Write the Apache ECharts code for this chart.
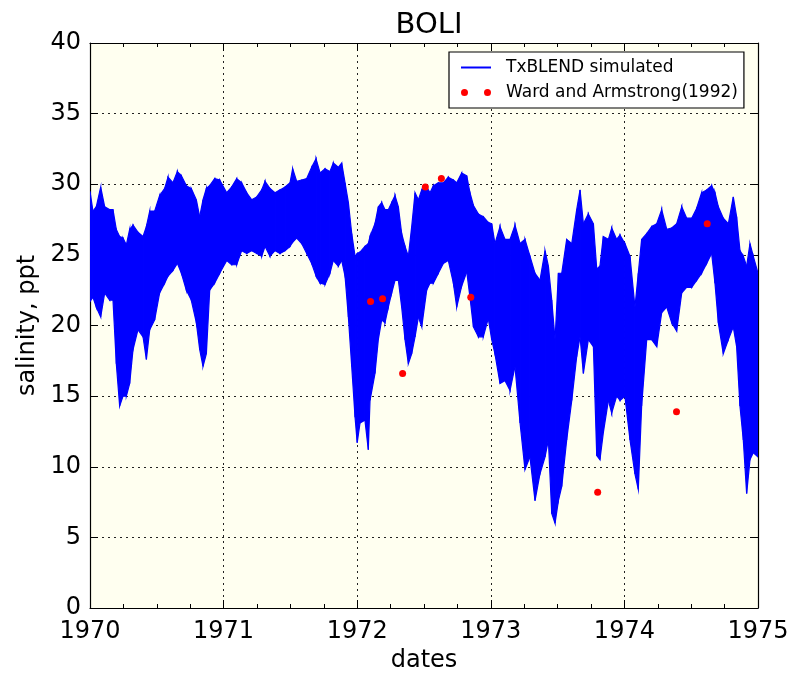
<!DOCTYPE html>
<html>
<head>
<meta charset="utf-8">
<script src="https://cdn.jsdelivr.net/npm/echarts@6/dist/echarts.min.js"></script>
<style>html,body{margin:0;padding:0;background:#fff}#c{width:795px;height:673px}</style>
</head>
<body>
<div id="c"></div>
<script>
// Simulated salinity envelope (decimal year, upper and lower extent of the tidal oscillation)
const simT = [1970.000,1970.022,1970.047,1970.080,1970.110,1970.147,1970.172,1970.197,1970.222,1970.247,1970.272,1970.297,1970.322,1970.359,1970.397,1970.422,1970.447,1970.484,1970.521,1970.559,1970.584,1970.621,1970.654,1970.684,1970.721,1970.758,1970.796,1970.821,1970.846,1970.871,1970.896,1970.933,1970.971,
1971.023,1971.060,1971.098,1971.135,1971.173,1971.210,1971.248,1971.285,1971.310,1971.347,1971.385,1971.422,1971.460,1971.497,1971.517,1971.547,1971.585,1971.622,1971.659,1971.692,1971.722,1971.759,1971.796,1971.821,1971.859,1971.884,1971.909,1971.934,1971.959,1971.984,
1972.000,1972.021,1972.058,1972.083,1972.096,1972.133,1972.158,1972.183,1972.208,1972.233,1972.258,1972.283,1972.308,1972.333,1972.358,1972.383,1972.408,1972.433,1972.458,1972.483,1972.520,1972.545,1972.570,1972.607,1972.645,1972.682,1972.720,1972.745,1972.782,1972.820,1972.844,1972.870,1972.907,1972.944,1972.981,
1973.007,1973.031,1973.069,1973.106,1973.144,1973.181,1973.219,1973.256,1973.293,1973.331,1973.368,1973.406,1973.431,1973.456,1973.481,1973.506,1973.531,1973.568,1973.606,1973.643,1973.668,1973.693,1973.730,1973.768,1973.793,1973.817,1973.842,1973.880,1973.905,1973.942,1973.967,
1974.004,1974.042,1974.079,1974.104,1974.129,1974.167,1974.204,1974.242,1974.279,1974.317,1974.354,1974.391,1974.429,1974.466,1974.504,1974.541,1974.578,1974.616,1974.653,1974.678,1974.703,1974.740,1974.778,1974.815,1974.840,1974.865,1974.890,1974.915,1974.940,1974.965,1975.000];
const simHi = [29.5,28.1,28.4,29.8,28.4,28.2,28.2,26.8,26.3,26.2,25.7,26.8,27.1,26.6,26.3,27.0,28.1,28.1,29.2,29.7,30.5,30.1,30.9,30.6,29.9,29.7,28.9,27.7,28.9,29.7,29.9,30.4,30.3,
29.4,29.8,30.4,30.1,29.4,28.9,29.1,29.6,30.2,29.7,29.4,29.6,29.8,30.1,31.1,30.2,30.3,30.4,31.2,31.8,30.8,31.1,30.9,31.5,31.2,31.5,30.1,28.7,26.5,24.9,
25.1,25.2,25.6,25.8,26.3,27.2,28.4,28.7,28.2,28.2,28.7,29.2,28.4,26.5,25.6,24.9,27.0,29.4,28.9,29.6,29.8,29.4,29.9,30.1,30.1,30.5,30.3,30.1,30.8,30.6,29.4,28.5,27.9,27.7,27.3,
27.2,25.8,27.0,26.1,26.1,27.1,25.8,26.1,24.9,23.7,23.2,25.3,24.2,21.8,19.0,23.7,23.7,26.1,25.8,28.2,29.6,27.2,27.9,27.2,24.0,24.2,26.3,26.1,26.9,26.1,26.4,
25.8,24.9,21.3,23.7,26.1,26.5,27.0,27.2,28.2,26.8,26.9,27.2,28.4,27.6,27.6,28.3,29.4,29.6,29.9,29.4,28.4,27.6,27.2,29.1,27.7,25.3,24.9,24.2,25.8,24.9,23.7];
const simLo = [21.7,22.0,21.3,20.6,22.3,21.8,21.8,17.3,14.3,15.0,15.0,15.9,18.3,19.7,19.2,17.6,19.7,20.4,22.3,23.0,23.5,23.9,24.4,23.7,22.5,21.8,20.2,18.3,17.1,18.0,22.5,23.0,23.7,
24.6,24.3,24.3,25.3,25.1,25.3,25.1,24.9,25.6,24.9,25.3,25.1,25.3,25.6,25.9,26.2,25.8,25.1,24.4,23.5,23.0,22.9,23.7,24.6,24.2,24.6,23.5,20.6,17.1,13.5,
11.7,13.1,13.3,11.2,14.7,16.6,19.0,20.4,20.2,21.3,22.3,23.2,23.2,21.3,19.0,17.3,18.0,19.2,20.6,19.9,22.5,23.0,23.0,23.7,24.4,24.6,23.0,21.3,22.8,23.8,22.0,19.9,19.2,19.2,20.5,
19.0,18.0,15.9,16.1,15.4,17.1,13.1,9.8,10.7,7.6,9.5,10.7,11.9,6.7,6.0,7.6,8.6,11.9,14.7,17.8,19.2,16.6,19.0,18.5,10.8,10.5,12.4,14.7,13.8,15.0,14.7,
15.0,11.9,9.5,8.4,14.3,19.0,19.0,18.5,20.9,21.3,20.2,19.6,22.3,22.7,22.7,23.2,23.7,24.4,25.1,23.0,20.2,18.0,19.0,19.9,18.5,14.3,11.9,8.1,10.5,11.0,10.7];

// Ward and Armstrong (1992) observations
const obsT = [1972.10,1972.19,1972.34,1972.51,1972.63,1972.85,1973.80,1974.39,1974.62];
const obsV = [21.7,21.9,16.6,29.8,30.4,22.0,8.2,13.9,27.2];

// Axes
const xTicks = [1970,1971,1972,1973,1974,1975];
const yTicks = [0,5,10,15,20,25,30,35,40];

const simName = 'TxBLEND simulated';
const obsName = 'Ward and Armstrong(1992)';

const simData = simT.map((t, i) => [t, simHi[i], simLo[i]]);
const obsData = obsT.map((t, i) => [t, obsV[i]]);

const FONT = 'DejaVu Sans';
const BLUE = '#0000ff';

const chart = echarts.init(document.getElementById('c'), null, {renderer: 'canvas'});

const baseX = {
  type: 'value', min: xTicks[0], max: xTicks[xTicks.length - 1], interval: 1,
  axisLine: {show: true, onZero: false, lineStyle: {color: '#000', width: 1.2}},
  axisTick: {show: true, inside: true, length: 8, lineStyle: {color: '#000', width: 1}},
  minorTick: {show: true, splitNumber: 4, length: 4, lineStyle: {color: '#000', width: 1}},
  splitLine: {show: false}
};
const baseY = {
  type: 'value', min: yTicks[0], max: yTicks[yTicks.length - 1], interval: 5,
  axisLine: {show: true, onZero: false, lineStyle: {color: '#000', width: 1.2}},
  axisTick: {show: true, inside: true, length: 8, lineStyle: {color: '#000', width: 1}},
  splitLine: {show: false}
};

// band between the upper and lower envelope, segment by segment
function renderBand(params, api) {
  const i = params.dataIndex;
  if (i >= simData.length - 1) return null;
  const a = simData[i], b = simData[i + 1];
  const pts = [
    api.coord([a[0], a[1]]), api.coord([b[0], b[1]]),
    api.coord([b[0], b[2]]), api.coord([a[0], a[2]])
  ];
  return {
    type: 'polygon',
    shape: {points: pts},
    style: {fill: BLUE, stroke: BLUE, lineWidth: 1.2}
  };
}

chart.setOption({
  backgroundColor: '#ffffff',
  animation: false,
  textStyle: {fontFamily: FONT},
  title: {
    text: 'BOLI', left: 424, top: 6, textAlign: 'center',
    textStyle: {fontFamily: FONT, fontSize: 29, fontWeight: 'normal', color: '#000'}
  },
  grid: {left: 90, right: 37, top: 43, bottom: 65, containLabel: false, outerBoundsMode: 'none',
    show: true, backgroundColor: '#fffff0', borderWidth: 0},
  legend: {
    show: true, orient: 'vertical', left: 449, top: 52,
    padding: [7, 6, 7, 12], itemGap: 8, itemWidth: 30, itemHeight: 7,
    backgroundColor: '#ffffff', borderColor: '#000', borderWidth: 1.2, borderRadius: 0,
    textStyle: {fontFamily: FONT, fontSize: 17, color: '#000', padding: [0, 0, 0, 10]},
    data: [
      {name: simName, icon: 'path://M0,2.5L30,2.5L30,4.5L0,4.5Z', itemStyle: {color: BLUE}},
      {name: obsName, icon: 'path://M0,3.5a3.5,3.5 0 1,0 7,0a3.5,3.5 0 1,0 -7,0Z M23,3.5a3.5,3.5 0 1,0 7,0a3.5,3.5 0 1,0 -7,0Z', itemStyle: {color: '#ff0000'}}
    ]
  },
  xAxis: [
    Object.assign({}, baseX, {
      position: 'bottom',
      name: 'dates', nameLocation: 'middle', nameGap: 40,
      nameTextStyle: {fontFamily: FONT, fontSize: 24, color: '#000'},
      axisLabel: {show: true, margin: 12, fontFamily: FONT, fontSize: 24, color: '#000', formatter: v => String(v)},
      splitLine: {show: true, lineStyle: {color: '#222', width: 1, type: [2, 4]}}
    }),
    Object.assign({}, baseX, {position: 'top', axisLabel: {show: false}})
  ],
  yAxis: [
    Object.assign({}, baseY, {
      position: 'left',
      name: 'salinity, ppt', nameLocation: 'middle', nameGap: 49, nameRotate: 90,
      nameTextStyle: {fontFamily: FONT, fontSize: 24, color: '#000'},
      axisLabel: {show: true, margin: 9, fontFamily: FONT, fontSize: 24, color: '#000', formatter: v => String(v)},
      splitLine: {show: true, lineStyle: {color: '#222', width: 1, type: [2, 4]}}
    }),
    Object.assign({}, baseY, {position: 'right', axisLabel: {show: false}})
  ],
  series: [
    {
      name: simName, type: 'custom', xAxisIndex: 0, yAxisIndex: 0,
      data: simData, encode: {x: 0, y: [1, 2]}, renderItem: renderBand,
      clip: true, itemStyle: {color: BLUE}, z: 3
    },
    {
      name: obsName, type: 'scatter', xAxisIndex: 0, yAxisIndex: 0,
      data: obsData, symbol: 'circle', symbolSize: 7,
      itemStyle: {color: '#ff0000', opacity: 1}, z: 5
    }
  ]
});
</script>
</body>
</html>
